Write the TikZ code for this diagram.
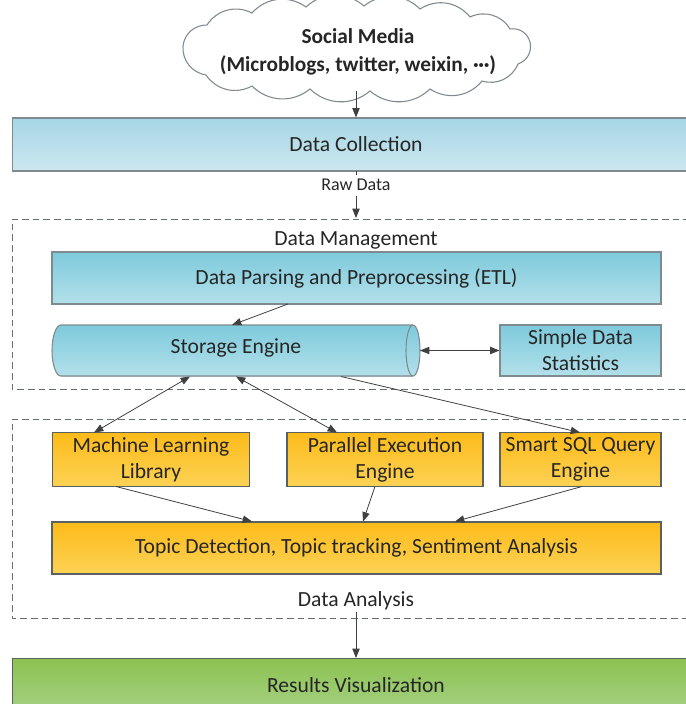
\documentclass[tikz,border=0pt]{standalone}
\usepackage{fontspec}
\setmainfont{Carlito}
\usetikzlibrary{arrows.meta,calc}

\definecolor{edgegray}{HTML}{7F8A8E}
\definecolor{linegray}{HTML}{404040}
\definecolor{paleTop}{HTML}{A6D6E4}
\definecolor{paleBot}{HTML}{CBE7EF}
\definecolor{tealTop}{HTML}{7ECADC}
\definecolor{tealBot}{HTML}{B3E0EA}
\definecolor{goldTop}{HTML}{FDBB1A}
\definecolor{goldBot}{HTML}{FCD255}
\definecolor{greenTop}{HTML}{8CC250}
\definecolor{greenBot}{HTML}{A8D28A}
\definecolor{txt}{HTML}{262626}

\newcommand{\middots}{\textperiodcentered\kern-0.02em\textperiodcentered\kern-0.02em\textperiodcentered}

\tikzset{
  arr/.style={-{Triangle[length=7pt,width=5.5pt]}, draw=linegray, line width=0.6pt},
  dbl/.style={{Triangle[length=7pt,width=5.5pt]}-{Triangle[length=7pt,width=5.5pt]}, draw=linegray, line width=0.6pt},
  plain/.style={draw=linegray, line width=0.6pt},
  group/.style={draw=edgegray!80!black, dash pattern=on 5pt off 3pt, line width=0.6pt},
  puff/.style={bend left=42},
  palebox/.style={rectangle, draw=edgegray, line width=0.8pt, top color=paleTop, bottom color=paleBot, inner sep=0pt, text=txt},
  tealbox/.style={rectangle, draw=edgegray, line width=0.8pt, top color=tealTop, bottom color=tealBot, inner sep=0pt, text=txt, align=center},
  goldbox/.style={rectangle, draw=edgegray!70!black, line width=0.8pt, top color=goldTop, bottom color=goldBot, inner sep=0pt, text=txt, align=center},
  greenbox/.style={rectangle, draw=edgegray!70!black, line width=0.8pt, top color=greenTop, bottom color=greenBot, inner sep=0pt, text=txt},
  lbl/.style={text=txt, inner sep=1pt},
  twoline/.style={font=\fontsize{16.2}{19.5}\selectfont},
}

\begin{document}
\begin{tikzpicture}[x=0.75pt, y=-0.75pt, font=\fontsize{16.2}{19}\selectfont]
\useasboundingbox (0,0) rectangle (686,704);

% source cloud: hand-drawn puffy outline, caption laid over it
\draw[draw=edgegray, line width=0.8pt, fill=white]
  (183,46) to[puff] (207,25) to[puff] (252,13) to[puff] (306,7) to[puff] (364,6)
  to[puff] (420,9) to[puff] (470,17) to[puff] (510,29) to[puff] (530,42)
  to[puff] (518,64) to[puff] (482,81) to[puff] (430,89) to[puff] (370,91)
  to[puff] (310,89) to[puff] (252,86) to[puff] (206,75) to[puff] (183,46) -- cycle;
\node[align=center, text=txt, inner sep=0pt, font=\fontsize{16}{21}\selectfont\bfseries] (src) at (358,52)
      {Social Media\\(Microblogs, twitter, weixin, \middots)};

% data collection (runs past the right edge)
\node[palebox, minimum width=680*0.75pt, minimum height=53*0.75pt, anchor=west] (coll) at (12,144.5) {};
\node[lbl] (colltxt) at (356,144.5) {Data Collection};

% data management group
\draw[group] (690,219) -- (12,219) -- (12,389) -- (690,389);
\node[lbl] (mgmt) at (356,240) {Data Management};
\node[tealbox, minimum width=609*0.75pt, minimum height=52*0.75pt] (etl) at (356.5,278) {Data Parsing and Preprocessing (ETL)};

% storage engine cylinder
\fill[top color=tealTop, bottom color=tealBot, draw=edgegray, line width=0.8pt]
  (61,325) -- (413,325) arc[start angle=-90, end angle=90, x radius=7, y radius=25.5]
  -- (61,376) arc[start angle=90, end angle=270, x radius=9, y radius=25.5] -- cycle;
\draw[edgegray, line width=0.8pt] (413,325) arc[start angle=-90, end angle=-270, x radius=7, y radius=25.5];
\node[minimum width=368*0.75pt, minimum height=51*0.75pt, inner sep=0pt, text=txt] (store) at (236,348) {Storage Engine};

\node[tealbox, twoline, minimum width=161*0.75pt, minimum height=51*0.75pt] (stats) at (580.5,350.5) {Simple Data\\Statistics};

% data analysis group
\draw[group] (690,419) -- (12,419) -- (12,618) -- (690,618);
\node[goldbox, twoline, minimum width=197*0.75pt, minimum height=54*0.75pt] (ml) at (151,459.5) {Machine Learning\\Library};
\node[goldbox, twoline, minimum width=196*0.75pt, minimum height=54*0.75pt] (par) at (385,459.5) {Parallel Execution\\Engine};
\node[goldbox, twoline, minimum width=161*0.75pt, minimum height=54*0.75pt] (sql) at (580.5,459.5) {Smart SQL Query\\Engine};
\node[goldbox, minimum width=609*0.75pt, minimum height=52*0.75pt] (topic) at (356.5,548) {Topic Detection, Topic tracking, Sentiment Analysis};
\node[lbl] (ana) at (356,601) {Data Analysis};

% results (runs past the bottom and right edges)
\node[greenbox, minimum width=680*0.75pt, minimum height=60*0.75pt, anchor=north west] (res) at (12,658) {};
\node[lbl] (restxt) at (356,685) {Results Visualization};

% connectors
\coordinate (srcOut) at (356,91);
\draw[arr] (srcOut) -- (srcOut |- coll.north);
\coordinate (collOut) at (356,171);
\coordinate (rawStub) at (356,175);
\draw[plain] (collOut) -- (rawStub);
\node[lbl, font=\fontsize{13.5}{15}\selectfont] (raw) at (356,185) {Raw Data};
\coordinate (rawArr) at (356,196);
\coordinate (mgmtTop) at (356,218);
\draw[arr] (rawArr) -- (mgmtTop);

\coordinate (etlOut) at (288,304);
\coordinate (storeIn) at (232,325);
\draw[arr] (etlOut) -- (storeIn);
\coordinate (storeR) at (420,350.5);
\draw[dbl] (storeR) -- (stats.west);

\coordinate (storeB1) at (190,376.5);
\coordinate (storeB2) at (236,376.5);
\coordinate (storeB3) at (341,376.5);
\coordinate (mlIn) at (94,432.5);
\coordinate (parIn) at (337,432.5);
\coordinate (sqlIn) at (580,432.5);
\draw[dbl] (storeB1) -- (mlIn);
\draw[dbl] (storeB2) -- (parIn);
\draw[arr] (storeB3) -- (sqlIn);

\coordinate (mlOut) at (116,486.5);
\coordinate (parOut) at (375,486.5);
\coordinate (sqlOut) at (582,486.5);
\coordinate (topicIn1) at (252,521.5);
\coordinate (topicIn2) at (363,521.5);
\coordinate (topicIn3) at (455,521.5);
\draw[arr] (mlOut) -- (topicIn1);
\draw[arr] (parOut) -- (topicIn2);
\draw[arr] (sqlOut) -- (topicIn3);

\coordinate (anaOut) at (356,612);
\draw[arr] (anaOut) -- (anaOut |- res.north);
\end{tikzpicture}
\end{document}
